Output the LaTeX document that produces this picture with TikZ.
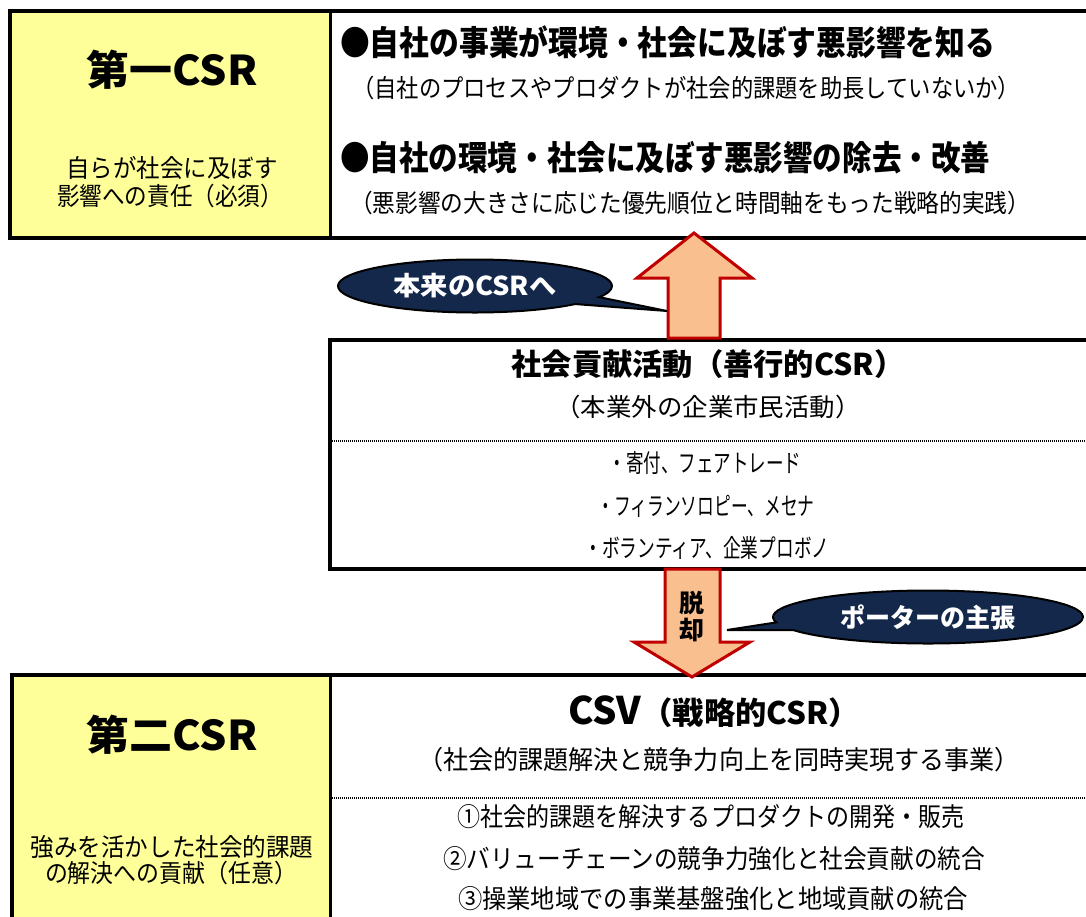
\documentclass[tikz,border=0pt]{standalone}
\usepackage{fontspec}
\setmainfont{Noto Sans CJK JP}
\usepackage{graphicx}
\usetikzlibrary{shapes.callouts,shapes.geometric}
\definecolor{ylw}{HTML}{FFFF99}
\definecolor{peach}{HTML}{F9BF8F}
\definecolor{dred}{HTML}{C00000}
\definecolor{navy}{HTML}{14284B}
\newcommand\fitw[2]{\resizebox{#1}{\height}{#2}}
\newcommand\fs[1]{\fontsize{#1}{#1}\selectfont}
\tikzset{
  blk/.style={line width=4pt, draw=black},
  divline/.style={line width=3pt, draw=black},
  dotline/.style={line width=1.5pt, dash pattern=on 1pt off 1pt},
  barrow/.style={fill=peach, draw=dred, line width=3pt, line join=miter},
  bubble/.style={ellipse callout, draw=black, line width=2pt, fill=navy, text=white,
    inner sep=0pt, callout pointer arc=18},
  txt/.style={inner sep=0pt},
}
\begin{document}
\begin{tikzpicture}[x=1pt,y=-1pt]
\useasboundingbox (0,0) rectangle (1086,916);
\clip (0,0) rectangle (1086,916);
% top block
\fill[ylw] (10,11) rectangle (330,238);
\draw[blk] (10,11) rectangle (1110,238);
\draw[divline] (330,11) -- (330,238);
% middle block
\draw[blk, fill=white] (330,340) rectangle (1110,569);
\draw[dotline] (332,441) -- (1086,441);
% bottom block
\fill[ylw] (12,675) rectangle (330,930);
\draw[blk] (12,675) rectangle (1110,930);
\draw[divline] (330,675) -- (330,930);
\draw[dotline] (332,798) -- (1086,798);
% block arrows
\draw[barrow] (694,233) -- (752,278) -- (720,278) -- (720,338) -- (668,338) -- (668,278) -- (637,278) -- cycle;
\draw[barrow] (665,569) -- (720,569) -- (720,642) -- (750,642) -- (692,677) -- (634,642) -- (665,642) -- cycle;
% top texts
\node[txt] (t1) at (172,70) {\fitw{171pt}{\bfseries\fs{41}第一CSR}};
\node[txt] (t2) at (172,168) {\fitw{211pt}{\fs{25}自らが社会に及ぼす}};
\node[txt] (t3) at (170,196) {\fitw{226pt}{\fs{25}影響への責任（必須）}};
\node[txt, anchor=west] (b1) at (340,42) {\fitw{655pt}{\bfseries\fs{34}●自社の事業が環境・社会に及ぼす悪影響を知る}};
\node[txt, anchor=west] (p1) at (352,88) {\fitw{668pt}{\fs{25}（自社のプロセスやプロダクトが社会的課題を助長していないか）}};
\node[txt, anchor=west] (b2) at (340,158) {\fitw{650pt}{\bfseries\fs{34}●自社の環境・社会に及ぼす悪影響の除去・改善}};
\node[txt, anchor=west] (p2) at (350,203) {\fitw{680pt}{\fs{25}（悪影響の大きさに応じた優先順位と時間軸をもった戦略的実践）}};
% callout 1
\node[bubble, minimum width=274pt, minimum height=53pt, callout absolute pointer={(667,311)}] (c1) at (475,286) {\fitw{163pt}{\bfseries\fs{26}本来のCSRへ}};
% middle texts
\node[txt] (m1) at (708,364) {\fitw{393pt}{\bfseries\fs{30}社会貢献活動（善行的CSR）}};
\node[txt] (m2) at (708,407) {\fitw{305pt}{\fs{25}（本業外の企業市民活動）}};
\node[txt] (l1) at (705,463) {\fitw{193pt}{\fs{25}・寄付、フェアトレード}};
\node[txt] (l2) at (706,506) {\fitw{217pt}{\fs{25}・フィランソロピー、メセナ}};
\node[txt] (l3) at (707,548) {\fitw{245pt}{\fs{25}・ボランティア、企業プロボノ}};
% down arrow label
\node[txt] (d1) at (692,603) {\bfseries\fs{25}脱};
\node[txt] (d2) at (692,630) {\bfseries\fs{25}却};
% callout 2
\node[bubble, minimum width=310pt, minimum height=53pt, callout absolute pointer={(727,630)}] (c2) at (928,617) {\fitw{175pt}{\bfseries\fs{26}ポーターの主張}};
% bottom texts
\node[txt] (s1) at (172,735) {\fitw{171pt}{\bfseries\fs{41}第二CSR}};
\node[txt] (s2) at (172,847) {\fitw{283pt}{\fs{25}強みを活かした社会的課題}};
\node[txt] (s3) at (171,873) {\fitw{252pt}{\fs{25}の解決への貢献（任意）}};
\node[txt] (v1) at (714,712) {\fitw{292pt}{\bfseries{\fs{38}CSV}{\fs{31}（戦略的CSR）}}};
\node[txt] (v2) at (719,760) {\fitw{602pt}{\fs{26}（社会的課題解決と競争力向上を同時実現する事業）}};
\node[txt] (n1) at (711,817) {\fitw{507pt}{\fs{26}①社会的課題を解決するプロダクトの開発・販売}};
\node[txt] (n2) at (714,859) {\fitw{542pt}{\fs{26}②バリューチェーンの競争力強化と社会貢献の統合}};
\node[txt] (n3) at (713,899) {\fitw{510pt}{\fs{26}③操業地域での事業基盤強化と地域貢献の統合}};
\end{tikzpicture}
\end{document}
